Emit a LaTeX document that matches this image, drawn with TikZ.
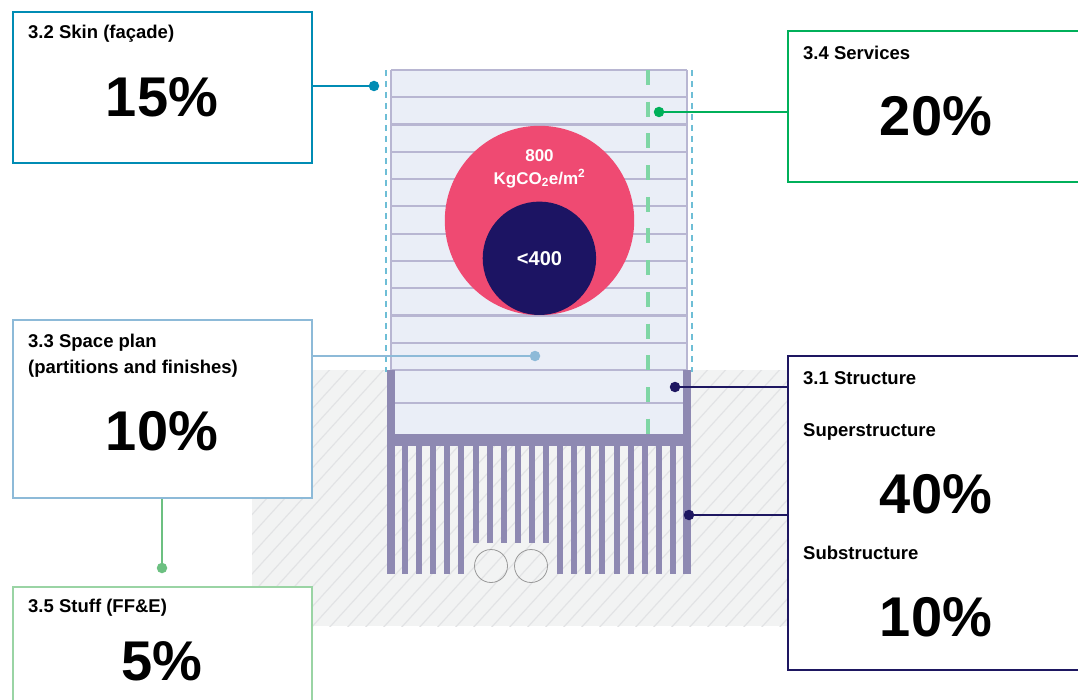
\documentclass[tikz,border=0pt]{standalone}
\usepackage{fontspec}
\setmainfont{Liberation Sans}
\usetikzlibrary{positioning, calc}

\definecolor{skinc}{HTML}{008CB4}
\definecolor{servc}{HTML}{00B05A}
\definecolor{spacec}{HTML}{8DBAD8}
\definecolor{stuffc}{HTML}{9AD4A4}
\definecolor{stuffline}{HTML}{6CC081}
\definecolor{structc}{HTML}{1E1761}
\definecolor{pinkc}{HTML}{EF4A72}
\definecolor{navyc}{HTML}{1C1463}
\definecolor{floorfill}{HTML}{EAEEF7}
\definecolor{floorc}{HTML}{B8B6D2}
\definecolor{wallc}{HTML}{8E89B2}
\definecolor{edgeblue}{HTML}{6EBED6}
\definecolor{ductc}{HTML}{7FD6A5}
\definecolor{groundc}{HTML}{F2F3F3}
\definecolor{hatchc}{HTML}{E2E3E5}

\begin{document}
\begin{tikzpicture}[
        x=1pt, y=-1pt,
        % Styles
        box/.style={rectangle, draw, line width=2.2pt, fill=white, anchor=north west,
                inner sep=0pt, minimum width=299pt},
        boxtitle/.style={anchor=west, inner sep=0pt, align=left,
                font=\bfseries\fontsize{18.5}{26}\selectfont},
        pctlabel/.style={inner sep=0pt, font=\bfseries\fontsize{56}{60}\selectfont},
        circtext/.style={inner sep=0pt, align=center, text=white},
        dot/.style={circle, inner sep=0pt, minimum size=10.5pt},
        link/.style={line width=2pt},
        floorline/.style={draw=floorc, line width=2.2pt},
        hatch/.style={draw=hatchc, line width=1.2pt},
        pipe/.style={draw=gray!80, line width=0.8pt}, ]

        \useasboundingbox (0,0) rectangle (1078,700);
        \clip (0,0) rectangle (1078,700);

        % === GROUND ===
        \fill[groundc] (252,370) rectangle (1078,626);
        \begin{scope}
            \clip (252,370) rectangle (1078,626);
            \foreach \i in {0,...,75}
                \draw[hatch] (-60+\i*18,640) -- ++(300,-330);
        \end{scope}

        % === BUILDING ===
        \fill[floorfill] (391,70) rectangle (687,434);
        \foreach \k in {0,...,11}
            \draw[floorline] (391,70+\k*27.27) -- (687,70+\k*27.27);
        \draw[floorline] (395,403) -- (683,403);
        \draw[floorline] (391,70) -- (391,370);
        \draw[floorline] (687,70) -- (687,370);

        % facade and services lines
        \draw[edgeblue, line width=2pt, dash pattern=on 6pt off 5pt] (386,70) -- (386,372);
        \draw[edgeblue, line width=2pt, dash pattern=on 6pt off 5pt] (692,70) -- (692,372);
        \draw[ductc, line width=4pt, dash pattern=on 15pt off 16.7pt] (648,70) -- (648,434);

        % walls, slab and piles
        \fill[wallc] (387,370) rectangle (395,574);
        \fill[wallc] (683,370) rectangle (691,574);
        \fill[wallc] (387,434) rectangle (691,446);
        \foreach \i in {1,...,20} {
            \pgfmathsetmacro\px{391+\i*14.095}
            \pgfmathsetmacro\pb{(\i>5 && \i<12) ? 543 : 574}
            \fill[wallc] (\px-3,446) rectangle (\px+3,\pb);
        }
        \draw[pipe] (491,566) circle (16.5pt);
        \draw[pipe] (531,566) circle (16.5pt);

        % === CARBON CIRCLES ===
        \node[circle, fill=pinkc, inner sep=0pt, minimum size=189.4pt] (total) at (539.5,220.5) {};
        \node[circle, fill=navyc, inner sep=0pt, minimum size=113.4pt] (target) at (539.4,258.3) {};
        \node[circtext, font=\bfseries\fontsize{17}{23}\selectfont] (totalval) at (539.5,168.5)
            {800\\KgCO\textsubscript{2}e/m\textsuperscript{2}};
        \node[circtext, font=\bfseries\fontsize{20}{24}\selectfont] (targetval) at (539.5,259) {<400};

        % === BOXES ===
        \node[box, draw=skinc, minimum height=151pt] (skin) at (12,11) {};
        \node[boxtitle] (skintitle) at (28,34) {3.2 Skin (façade)};
        \node[pctlabel] (skinpct) at (162,97) {15\%};

        \node[box, draw=servc, minimum width=320pt, minimum height=151pt] (serv) at (787,30) {};
        \node[boxtitle] (servtitle) at (803,53) {3.4 Services};
        \node[pctlabel] (servpct) at (936,116) {20\%};

        \node[box, draw=spacec, minimum height=178pt] (space) at (12,319) {};
        \node[boxtitle] (spacetitle) at (28,356) {3.3 Space plan\\(partitions and finishes)};
        \node[pctlabel] (spacepct) at (162,431) {10\%};

        \node[box, draw=stuffc, minimum height=150pt] (stuff) at (12,586) {};
        \node[boxtitle] (stufftitle) at (28,608) {3.5 Stuff (FF\&E)};
        \node[pctlabel] (stuffpct) at (162,661) {5\%};

        \node[box, draw=structc, minimum width=320pt, minimum height=314pt] (struct) at (787,355) {};
        \node[boxtitle] (structtitle) at (803,378) {3.1 Structure};
        \node[boxtitle] (supertitle) at (803,432) {Superstructure};
        \node[pctlabel] (superpct) at (936,494) {40\%};
        \node[boxtitle] (subtitle) at (803,553) {Substructure};
        \node[pctlabel] (subpct) at (936,617) {10\%};

        % === CONNECTORS ===
        \node[dot, fill=skinc] (skindot) at (374,86) {};
        \node[dot, fill=servc] (servdot) at (659,112) {};
        \node[dot, fill=spacec] (spacedot) at (535,356) {};
        \node[dot, fill=stuffline] (stuffdot) at (162,568) {};
        \node[dot, fill=structc] (superdot) at (675,387) {};
        \node[dot, fill=structc] (subdot) at (689,515) {};

        \draw[link, skinc] (skindot -| skin.east) -- (skindot);
        \draw[link, servc] (servdot) -- (servdot -| serv.west);
        \draw[link, spacec] (spacedot -| space.east) -- (spacedot);
        \draw[link, stuffline] (stuffdot |- space.south) -- (stuffdot);
        \draw[link, structc] (superdot) -- (superdot -| struct.west);
        \draw[link, structc] (subdot) -- (subdot -| struct.west);

    \end{tikzpicture}
\end{document}
